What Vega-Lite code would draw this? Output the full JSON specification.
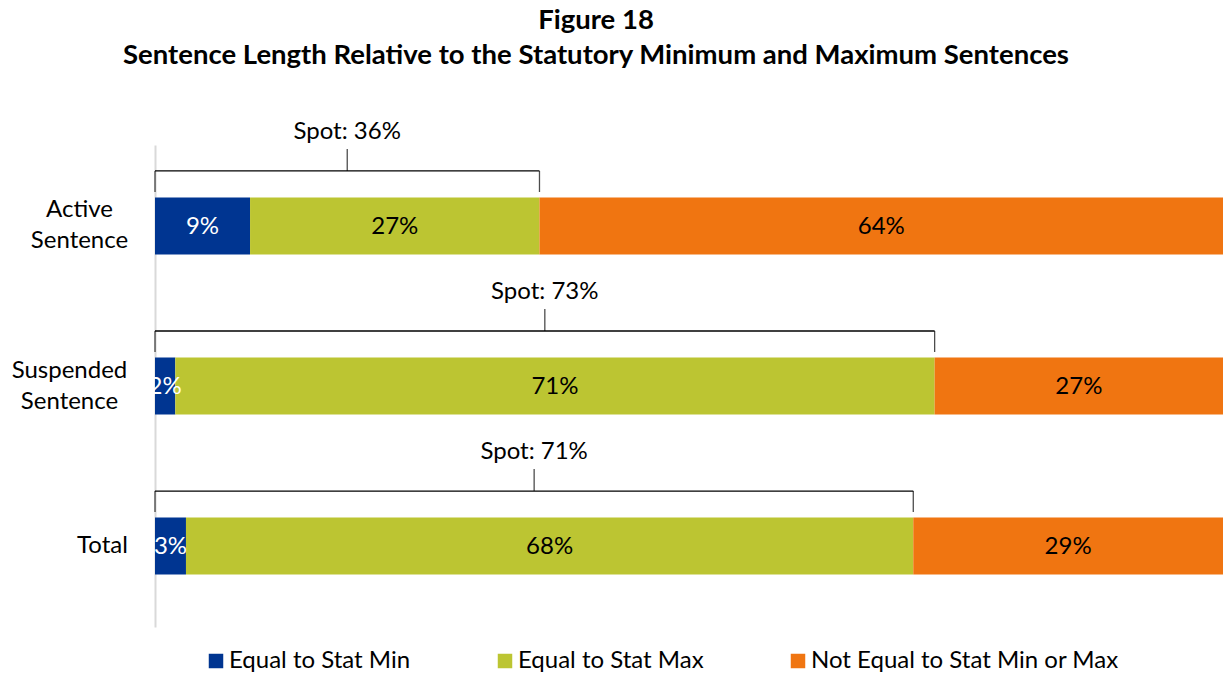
{
  "$schema": "https://vega.github.io/schema/vega-lite/v6.json",
  "width": 1068,
  "height": 482,
  "autosize": {"type": "none"},
  "padding": {"left": 155, "top": 145, "right": 0, "bottom": 47},
  "background": "white",
  "config": {"font": "Lato", "view": {"stroke": null}},
  "title": {
    "text": ["Figure 18", "Sentence Length Relative to the Statutory Minimum and Maximum Sentences"],
    "font": "Lato",
    "fontSize": 27.5,
    "fontWeight": "bold",
    "color": "black",
    "lineHeight": 35,
    "anchor": "middle",
    "baseline": "bottom",
    "dx": -93,
    "offset": 22
  },
  "datasets": {
    "bars": [
      {"group": "Active Sentence", "cat": "Equal to Stat Min", "k": 1, "pct": 0.089},
      {"group": "Active Sentence", "cat": "Equal to Stat Max", "k": 2, "pct": 0.271},
      {"group": "Active Sentence", "cat": "Not Equal to Stat Min or Max", "k": 3, "pct": 0.64},
      {"group": "Suspended Sentence", "cat": "Equal to Stat Min", "k": 1, "pct": 0.019},
      {"group": "Suspended Sentence", "cat": "Equal to Stat Max", "k": 2, "pct": 0.711},
      {"group": "Suspended Sentence", "cat": "Not Equal to Stat Min or Max", "k": 3, "pct": 0.27},
      {"group": "Total", "cat": "Equal to Stat Min", "k": 1, "pct": 0.029},
      {"group": "Total", "cat": "Equal to Stat Max", "k": 2, "pct": 0.681},
      {"group": "Total", "cat": "Not Equal to Stat Min or Max", "k": 3, "pct": 0.29}
    ],
    "spots": [
      {"group": "Active Sentence", "spot": 0.36, "label": "Spot: 36%"},
      {"group": "Suspended Sentence", "spot": 0.73, "label": "Spot: 73%"},
      {"group": "Total", "spot": 0.71, "label": "Spot: 71%"}
    ]
  },
  "layer": [
    {
      "data": {"name": "bars"},
      "mark": {"type": "bar"},
      "encoding": {
        "y": {
          "field": "group",
          "type": "nominal",
          "sort": ["Active Sentence", "Suspended Sentence", "Total"],
          "scale": {"paddingInner": 0.644, "paddingOuter": 0.328},
          "axis": {
            "title": null,
            "domainColor": "#d9d9d9",
            "domainWidth": 2,
            "ticks": false,
            "labelFont": "Lato",
            "labelFontSize": 24,
            "labelColor": "black",
            "labelLineHeight": 31,
            "labelExpr": "split(datum.label, ' ')",
            "labelAlign": "center",
            "labelBaseline": "middle",
            "labelPadding": {"expr": "datum.value == 'Total' ? 53 : (datum.value == 'Active Sentence' ? 76 : 86)"},
            "labelOffset": {"expr": "datum.value == 'Total' ? 0 : -15.5"},
            "labelLimit": 300
          }
        },
        "x": {
          "field": "pct",
          "type": "quantitative",
          "stack": "zero",
          "scale": {"domain": [0, 1], "nice": false},
          "axis": null
        },
        "color": {
          "field": "cat",
          "type": "nominal",
          "scale": {
            "domain": ["Equal to Stat Min", "Equal to Stat Max", "Not Equal to Stat Min or Max"],
            "range": ["#003591", "#bcc532", "#f07511"]
          },
          "legend": {
            "orient": "none",
            "legendX": 49,
            "legendY": 504,
            "padding": 0,
            "direction": "horizontal",
            "title": null,
            "symbolType": "square",
            "symbolSize": 210,
            "symbolStrokeWidth": 0,
            "labelFont": "Lato",
            "labelFontSize": 24,
            "labelColor": "black",
            "labelOffset": 1,
            "columnPadding": 82,
            "labelLimit": 400
          }
        },
        "order": {"field": "k", "type": "quantitative"}
      }
    },
    {
      "data": {"name": "bars"},
      "mark": {"type": "text", "fontSize": 24, "baseline": "middle", "dy": 1},
      "encoding": {
        "y": {"field": "group", "type": "nominal", "sort": ["Active Sentence", "Suspended Sentence", "Total"]},
        "x": {"field": "pct", "type": "quantitative", "stack": "zero", "bandPosition": 0.5},
        "detail": {"field": "cat", "type": "nominal"},
        "order": {"field": "k", "type": "quantitative"},
        "text": {"field": "pct", "type": "quantitative", "format": ".0%"},
        "color": {"condition": {"test": "datum.k === 1", "value": "white"}, "value": "black"}
      }
    },
    {
      "data": {"name": "spots"},
      "mark": {"type": "rule", "yOffset": -55, "strokeWidth": 1.3, "color": "black"},
      "encoding": {
        "y": {"field": "group", "type": "nominal", "sort": ["Active Sentence", "Suspended Sentence", "Total"]},
        "x": {"field": "spot", "type": "quantitative"},
        "x2": {"datum": 0}
      }
    },
    {
      "data": {"name": "spots"},
      "mark": {"type": "tick", "yOffset": -44.5, "size": 21, "thickness": 1.3, "color": "black", "orient": "vertical"},
      "encoding": {
        "y": {"field": "group", "type": "nominal", "sort": ["Active Sentence", "Suspended Sentence", "Total"]},
        "x": {"datum": 0, "type": "quantitative"}
      }
    },
    {
      "data": {"name": "spots"},
      "mark": {"type": "tick", "yOffset": -44.5, "size": 21, "thickness": 1.3, "color": "black", "orient": "vertical"},
      "encoding": {
        "y": {"field": "group", "type": "nominal", "sort": ["Active Sentence", "Suspended Sentence", "Total"]},
        "x": {"field": "spot", "type": "quantitative"}
      }
    },
    {
      "data": {"name": "spots"},
      "mark": {"type": "tick", "yOffset": -66, "size": 22, "thickness": 1.3, "color": "black", "orient": "vertical"},
      "encoding": {
        "y": {"field": "group", "type": "nominal", "sort": ["Active Sentence", "Suspended Sentence", "Total"]},
        "x": {"field": "spot", "type": "quantitative", "stack": "zero", "bandPosition": 0.5}
      }
    },
    {
      "data": {"name": "spots"},
      "mark": {"type": "text", "yOffset": -87, "baseline": "alphabetic", "fontSize": 24, "color": "black"},
      "encoding": {
        "y": {"field": "group", "type": "nominal", "sort": ["Active Sentence", "Suspended Sentence", "Total"]},
        "x": {"field": "spot", "type": "quantitative", "stack": "zero", "bandPosition": 0.5},
        "text": {"field": "label", "type": "nominal"}
      }
    }
  ]
}
